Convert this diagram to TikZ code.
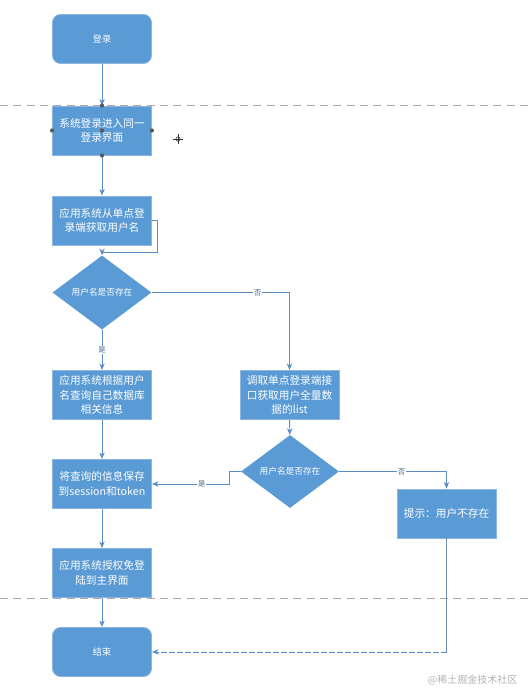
\documentclass[tikz,border=0pt]{standalone}
\usepackage{fontspec}
\setmainfont{Noto Sans CJK SC}
\usetikzlibrary{arrows.meta,shapes.geometric,calc}
\definecolor{boxfill}{HTML}{5B9BD5}
\definecolor{boxedge}{HTML}{8DB6E2}
\definecolor{linec}{HTML}{5A8CC8}
\definecolor{linegray}{HTML}{6C8CB0}
\definecolor{sepc}{HTML}{A8A8A8}
\definecolor{labc}{HTML}{4A6A8A}
\begin{document}
\begin{tikzpicture}[x=0.75pt,y=-0.75pt,
  procbox/.style={draw=boxedge,line width=0.6pt,fill=boxfill,text=white,align=center,
    minimum width=74.25pt,minimum height=36.75pt,inner sep=1pt,
    font=\fontsize{8}{10.8}\selectfont},
  termbox/.style={procbox,rounded corners=6pt,font=\fontsize{6.8}{8}\selectfont},
  decbox/.style={diamond,fill=boxfill,text=white,inner sep=0pt,
    minimum width=74.25pt,minimum height=55.5pt,font=\fontsize{6.5}{8}\selectfont},
  conn/.style={draw=linec,line width=0.7pt,-{Stealth[length=5pt,width=4pt]}},
  plain/.style={draw=linegray,line width=0.7pt},
  sep/.style={draw=sepc,line width=0.7pt,dash pattern=on 6pt off 4pt},
  lab/.style={fill=white,text=labc,inner sep=0.5pt,font=\fontsize{5.5}{6}\selectfont},
  handle/.style={circle,fill=black!65,inner sep=0pt,minimum size=3.2pt}
]
\useasboundingbox (0,0) rectangle (528,689);
% separators
\draw[sep] (0,105) -- (528,105);
\draw[sep] (0,598) -- (528,598);
% nodes
\node[termbox] (n1) at (102,39) {登录};
\node[procbox] (n2) at (102,130.5) {系统登录进入同一\\登录界面};
\node[procbox] (n3) at (102,220.5) {应用系统从单点登\\录端获取用户名};
\node[decbox] (d1) at (102,292.5) {用户名是否存在};
\node[procbox] (n4) at (102,395) {应用系统根据用户\\名查询自己数据库\\相关信息};
\node[procbox] (n5) at (289.5,395) {调取单点登录端接\\口获取用户全量数\\据的list};
\node[decbox,minimum width=73.5pt,minimum height=54.75pt] (d2) at (290,471.5) {用户名是否存在};
\node[procbox] (n6) at (102,484) {将查询的信息保存\\到session和token};
\node[procbox] (n7) at (446.5,513.5) {提示：用户不存在};
\node[procbox] (n8) at (102,573) {应用系统授权免登\\陆到主界面};
\node[termbox] (n9) at (102,652) {结束};
% connectors
\draw[conn] (n1) -- (n2);
\draw[conn] (n2) -- (n3);
\draw[conn] (n3.east) -- ++(6,0) -- ++(0,31.5) -| (d1.north);
\draw[conn] (d1.south) -- node[lab] {是} (n4.north);
\draw[conn] (d1.east) -| node[lab,pos=0.385] {否} (n5.north);
\draw[conn] (n4) -- (n6);
\draw[conn] (n5) -- (d2);
\draw[conn] (d2.west) -- ++(-11,0) |- node[lab,pos=0.68] {是} (n6.east);
\draw[conn] (d2.east) -| node[lab,pos=0.29] {否} (n7.north);
\draw[conn] (n6) -- (n8);
\draw[conn] (n8) -- (n9);
\coordinate (c1) at (n7.south |- n9.east);
\draw[plain] (n7.south) -- (c1);
\draw[conn,dash pattern=on 4pt off 2pt] (c1) -- (n9.east);
% selection handles and cursor
\foreach \a in {north,south,east,west,center} \node[handle] at (n2.\a) {};
\coordinate (cur) at (178,139);
\draw[black!80,line width=0.5pt] ($(cur)+(-5,0)$) -- ($(cur)+(5,0)$) ($(cur)+(0,-5)$) -- ($(cur)+(0,5)$);
\draw[black!80,line width=0.4pt] (cur) circle[radius=1.6pt];
% watermark
\node[text=black!30,font=\fontsize{7.5}{8}\selectfont,anchor=east] (wm) at (522,680) {@稀土掘金技术社区};
\end{tikzpicture}
\end{document}
